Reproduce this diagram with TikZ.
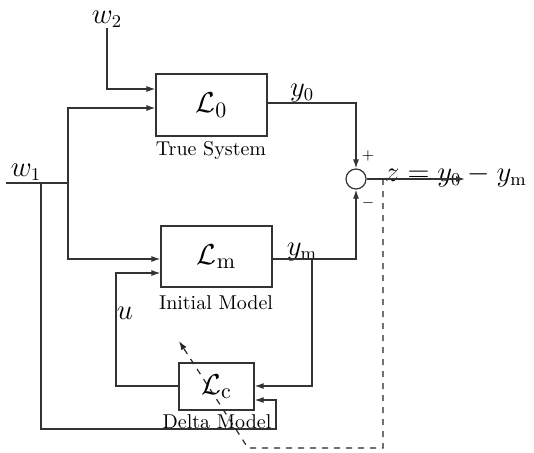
\documentclass[tikz,border=0pt]{standalone}
\usetikzlibrary{arrows.meta,calc}
\begin{document}
\begin{tikzpicture}[x=0.5pt,y=0.5pt,line width=0.6pt,
  arr/.style={draw=black!80,-{Latex[length=4.5pt,width=3pt]}},
  ln/.style={draw=black!80},
  blk/.style={draw=black!80,line width=0.6pt,rectangle,inner sep=0pt,font=\fontsize{15}{18}\selectfont},
  lbl/.style={inner sep=0pt,font=\fontsize{13.5}{16}\selectfont},
  captxt/.style={inner sep=0pt,font=\normalsize},
  sgn/.style={inner sep=0pt,font=\scriptsize}]
\useasboundingbox (0,0) rectangle (534,452);
% blocks
\node[blk,minimum width=55.5pt,minimum height=31pt] (L0) at (211.5,347) {$\mathcal{L}_0$};
\node[blk,minimum width=55.5pt,minimum height=30.5pt] (Lm) at (216.5,195.5) {$\mathcal{L}_{\mathrm{m}}$};
\node[blk,minimum width=37.5pt,minimum height=23.5pt] (Lc) at (216.5,65.5) {$\mathcal{L}_{\mathrm{c}}$};
\node[draw=black!80,line width=0.6pt,circle,minimum size=10pt,inner sep=0pt] (S) at (356,273) {};
% captions
\node[captxt] (tcap) at (211,302) {True System};
\node[captxt] (icap) at (216,149) {Initial Model};
\node[captxt] (dcap) at (217,30) {Delta Model};
% labels
\node[lbl] (w2l) at (107,433) {$w_2$};
\node[lbl] (w1l) at (26,280) {$w_1$};
\node[lbl] (y0l) at (302,359) {$y_0$};
\node[lbl] (yml) at (302,200) {$y_{\mathrm{m}}$};
\node[lbl] (ul) at (125,139) {$u$};
\node[lbl] (zl) at (456,276) {$z=y_0-y_{\mathrm{m}}$};
\node[sgn] (plus) at (368,296) {+};
\node[sgn] (minus) at (368,249) {$-$};
% coordinates
\coordinate (w2top) at (107,424);
\coordinate (w1in) at (6,269);
\coordinate (j1) at (68,269);
\coordinate (j2) at (41,269);
\coordinate (zend) at (465,273);
\coordinate (ymj) at (312,193);
\coordinate (dtop) at (383,273);
\coordinate (dbot) at (248,4);
\coordinate (dtip) at (179,111);
% w2 input
\draw[arr] (w2top) |- (L0.west |- 0,363);
% w1 line and branches
\draw[ln] (w1in) -- (j1);
\draw[arr] (j1) |- (L0.west |- 0,344);
\draw[arr] (j1) |- (Lm.west |- 0,193);
\draw[arr] (j2) -- (41,23) -- (276,23) |- (Lc.east |- 0,52);
% outputs to summing junction
\draw[arr] (L0.east |- 0,349) -| (S.north);
\draw[arr] (Lm.east |- 0,193) -| (S.south);
\draw[arr] (S.east) -- (zend);
% feedback loop
\draw[arr] (ymj) |- (Lc.east |- 0,66);
\draw[arr] (Lc.west |- 0,66) -- (116,66) |- (Lm.west |- 0,179);
% dashed
\draw[arr,dashed,draw=black!85] (dtop) |- (dbot) -- (dtip);
\end{tikzpicture}
\end{document}
